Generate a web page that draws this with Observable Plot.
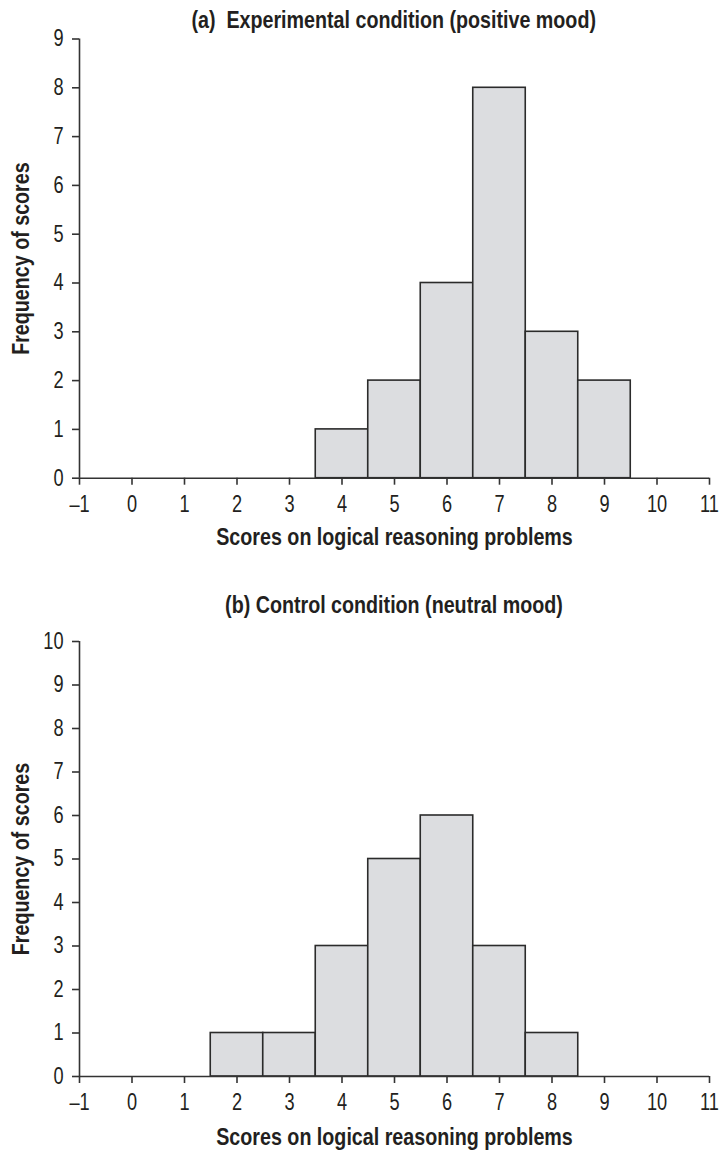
<!DOCTYPE html>
<html><head><meta charset="utf-8">
<script src="https://cdn.jsdelivr.net/npm/d3@7"></script>
<script src="https://cdn.jsdelivr.net/npm/@observablehq/plot@0.6"></script>
<style>
body{margin:0;background:#fff;}
#root{width:722px;}
.title{width:722px;height:30px;box-sizing:border-box;padding-top:8px;padding-left:66px;font:bold 24px/24px "Liberation Sans",Arial,sans-serif;color:#231f20;text-align:center;white-space:pre;}
.title span{display:inline-block;transform:scaleX(0.82);transform-origin:50% 50%;}
</style>
</head><body>
<div id="root"></div>
<script>
const FONT = '"Liberation Sans",Arial,sans-serif';
const NARROW = 0.82;
const NARROW_TICK = 0.79;
const xTicks = [-1,0,1,2,3,4,5,6,7,8,9,10,11];
const titleA = "(a)  Experimental condition (positive mood)";
const scoresA = [4,5,6,7,8,9];
const countsA = [1,2,4,8,3,2];
const yTicksA = [0,1,2,3,4,5,6,7,8,9];
const titleB = "(b) Control condition (neutral mood)";
const scoresB = [2,3,4,5,6,7,8];
const countsB = [1,1,3,5,6,3,1];
const yTicksB = [0,1,2,3,4,5,6,7,8,9,10];
const xLabel = "Scores on logical reasoning problems";
const yLabel = "Frequency of scores";

const fmt = d => d < 0 ? "\u2013" + Math.abs(d) : String(d);
const ink = "#231f20";

function panel(scores, counts, yTicks, height, marginTop, marginBottom, labelDy) {
  const data = scores.map((s, i) => ({score: s, count: counts[i]}));
  const yMax = yTicks[yTicks.length - 1];
  return Plot.plot({
    width: 722, height, marginLeft: 79, marginRight: 13, marginTop, marginBottom,
    style: {fontFamily: FONT, fontSize: "23px", color: ink, background: "#fff", overflow: "visible"},
    x: {domain: [xTicks[0], xTicks[xTicks.length - 1]]},
    y: {domain: [0, yMax]},
    marks: [
      Plot.rect(data, {x1: d => d.score - 0.5, x2: d => d.score + 0.5, y1: 0, y2: "count", fill: "#dcdde0", stroke: "#2b2b2b", strokeWidth: 1.6}),
      Plot.ruleX([xTicks[0]], {y1: 0, y2: yMax, stroke: "#333", strokeWidth: 1.6}),
      Plot.ruleY([0], {x1: xTicks[0], x2: xTicks[xTicks.length - 1], stroke: "#333", strokeWidth: 1.6}),
      Plot.axisX({ticks: xTicks, tickSize: 7, tickPadding: 10.5, tickFormat: fmt, stroke: "#333", strokeWidth: 1.6, label: null, fill: ink, fontSize: 23}),
      Plot.axisY({ticks: yTicks, tickSize: 7, tickPadding: 9, tickFormat: fmt, stroke: "#333", strokeWidth: 1.6, label: null, fill: ink, fontSize: 23}),
      Plot.text([xLabel], {frameAnchor: "bottom", lineAnchor: "middle", textAnchor: "middle", dy: labelDy, fontWeight: "bold", fontSize: 24, fill: ink}),
      Plot.text([yLabel], {frameAnchor: "left", lineAnchor: "middle", textAnchor: "middle", dx: -58, rotate: -90, fontWeight: "bold", fontSize: 24, fill: ink})
    ]
  });
}

function narrow(svg) {
  svg.querySelectorAll("text").forEach(t => {
    const L = t.getComputedTextLength();
    const g = t.closest("g[aria-label]");
    const isTick = g && /tick label/.test(g.getAttribute("aria-label"));
    const r = isTick ? NARROW_TICK : NARROW;
    if (L > 0) {
      t.setAttribute("textLength", (L * r).toFixed(2));
      t.setAttribute("lengthAdjust", "spacingAndGlyphs");
    }
  });
}

const root = document.getElementById("root");
function addTitle(t) {
  const d = document.createElement("div");
  d.className = "title";
  const s = document.createElement("span");
  s.textContent = t;
  d.appendChild(s);
  root.appendChild(d);
}
addTitle(titleA);
const svgA = panel(scoresA, countsA, yTicksA, 555, 8.5, 107.3, 59);
root.appendChild(svgA);
addTitle(titleB);
const svgB = panel(scoresB, countsB, yTicksB, 535, 26, 74, 61);
root.appendChild(svgB);
narrow(svgA);
narrow(svgB);
</script>
</body></html>
